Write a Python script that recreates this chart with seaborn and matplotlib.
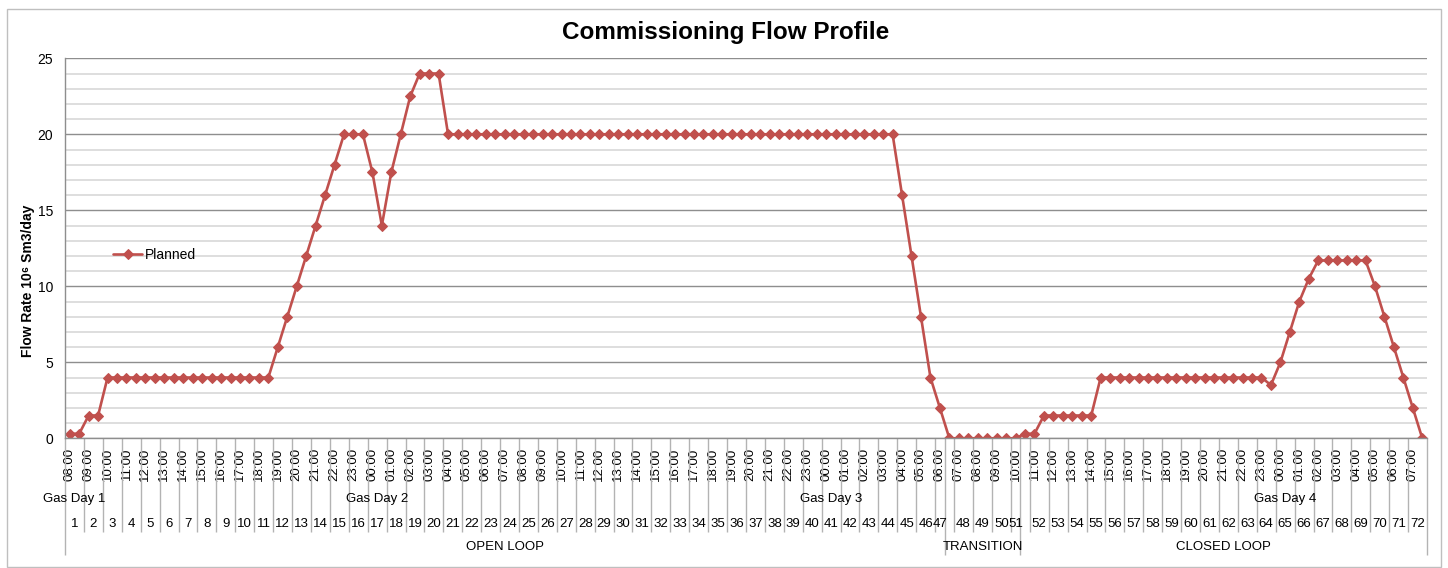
import seaborn as sns
import matplotlib.pyplot as plt
import pandas as pd
from matplotlib.ticker import MultipleLocator
from matplotlib.patches import Rectangle

# Planned flow, one value per half hour (144 slots, 08:00 gas day 1 -> 07:30 gas day 4)
flow = [
    0.3, 0.3, 1.5, 1.5, 4, 4, 4, 4, 4, 4, 4, 4,
    4, 4, 4, 4, 4, 4, 4, 4, 4, 4, 6, 8,
    10, 12, 14, 16, 18, 20, 20, 20, 17.5, 14, 17.5, 20,
    22.5, 24, 24, 24, 20, 20, 20, 20, 20, 20, 20, 20,
    20, 20, 20, 20, 20, 20, 20, 20, 20, 20, 20, 20,
    20, 20, 20, 20, 20, 20, 20, 20, 20, 20, 20, 20,
    20, 20, 20, 20, 20, 20, 20, 20, 20, 20, 20, 20,
    20, 20, 20, 20, 16, 12, 8, 4, 2, 0, 0, 0,
    0, 0, 0, 0, 0, 0.3, 0.3, 1.5, 1.5, 1.5, 1.5, 1.5,
    1.5, 4, 4, 4, 4, 4, 4, 4, 4, 4, 4, 4,
    4, 4, 4, 4, 4, 4, 4, 3.5, 5, 7, 9, 10.5,
    11.7, 11.7, 11.7, 11.7, 11.7, 11.7, 10, 8, 6, 4, 2, 0,
]

times = [
    "08:00", "09:00", "10:00", "11:00", "12:00", "13:00", "14:00", "15:00",
    "16:00", "17:00", "18:00", "19:00", "20:00", "21:00", "22:00", "23:00",
    "00:00", "01:00", "02:00", "03:00", "04:00", "05:00", "06:00", "07:00",
    "08:00", "09:00", "10:00", "11:00", "12:00", "13:00", "14:00", "15:00",
    "16:00", "17:00", "18:00", "19:00", "20:00", "21:00", "22:00", "23:00",
    "00:00", "01:00", "02:00", "03:00", "04:00", "05:00", "06:00", "07:00",
    "08:00", "09:00", "10:00", "11:00", "12:00", "13:00", "14:00", "15:00",
    "16:00", "17:00", "18:00", "19:00", "20:00", "21:00", "22:00", "23:00",
    "00:00", "01:00", "02:00", "03:00", "04:00", "05:00", "06:00", "07:00",
]
hour_no = list(range(1, 73))

gas_days = ["Gas Day 1", "Gas Day 2", "Gas Day 3", "Gas Day 4"]
gas_day_hour = [1, 17, 41, 65]

phases = ["OPEN LOOP", "TRANSITION", "CLOSED LOOP"]
phase_start = [0, 93, 101]
phase_end = [92, 100, 143]

df = pd.DataFrame({"slot": range(len(flow)), "flow": flow})

sns.set_theme(style="white")
plt.rcParams["font.family"] = ["Liberation Sans", "DejaVu Sans"]
plt.rcParams["text.color"] = "black"

W, H = 1448, 568
fig = plt.figure(figsize=(W / 100, H / 100), dpi=100)
x0, x1, ytop, ybot = 65, 1427, 58.3, 438.3
ax = fig.add_axes([x0 / W, (H - ybot) / H, (x1 - x0) / W, (ybot - ytop) / H])

red = "#C0504D"
sns.lineplot(data=df, x="slot", y="flow", ax=ax, color=red, lw=1.9,
             marker="D", markersize=5.1, markeredgecolor=red, label="Planned")

ax.set_xlim(-0.5, len(flow) - 0.5)
ax.set_ylim(0, 25)
ax.yaxis.set_major_locator(MultipleLocator(5))
ax.yaxis.set_minor_locator(MultipleLocator(1))
ax.grid(False)
ax.grid(axis="y", which="minor", color="#d4d4d4", lw=1.1)
ax.grid(axis="y", which="major", color="#8e8e8e", lw=1.0)
ax.set_axisbelow(True)
for s in ["top", "right"]:
    ax.spines[s].set_visible(False)
for s in ["left", "bottom"]:
    ax.spines[s].set_color("#8e8e8e")
    ax.spines[s].set_linewidth(1.0)

ax.set_xlabel("")
ax.set_ylabel("")
ax.set_xticks(range(0, len(flow), 2))
ax.set_xticklabels(times, rotation=90, fontsize=9.5, color="black")
ax.tick_params(axis="x", length=0, pad=7)
ax.tick_params(axis="y", which="both", length=0, pad=8.5, labelsize=10, labelcolor="black")

leg = ax.legend(loc="center left", bbox_to_anchor=((113 - x0) / (x1 - x0), (ybot - 255) / (ybot - ytop)),
                frameon=False, fontsize=10, handlelength=2.1, handletextpad=0.2,
                borderaxespad=0, borderpad=0)
for t in leg.get_texts():
    t.set_color("black")

# multi-level category labels under the axis
tr = ax.get_xaxis_transform()


def ay(py):
    return (ybot - py) / (ybot - ytop)


hour_lines = [2 * k - 0.5 for k in range(1, 72)]
ax.vlines(hour_lines, ay(ybot), ay(532), transform=tr, clip_on=False, colors="#b3b3b3", lw=1)
phase_lines = [phase_start[0] - 0.5] + [e + 0.5 for e in phase_end]
ax.vlines(phase_lines, ay(ybot), ay(555), transform=tr, clip_on=False, colors="#b3b3b3", lw=1)


def phase_of(slot):
    for i in range(len(phases)):
        if phase_start[i] <= slot <= phase_end[i]:
            return i


for h in hour_no:
    first = 2 * h - 2
    slots = [s for s in (first, first + 1) if phase_of(s) == phase_of(first)]
    ax.text(sum(slots) / len(slots), ay(524), str(h), transform=tr, ha="center", va="center",
            fontsize=9.5, clip_on=False)

for name, h in zip(gas_days, gas_day_hour):
    ax.text(2 * (h - 1) + 0.5, ay(499), name, transform=tr, ha="center", va="center",
            fontsize=9.5, clip_on=False)

for name, a, b in zip(phases, phase_start, phase_end):
    ax.text((a + b) / 2, ay(547), name, transform=tr, ha="center", va="center",
            fontsize=9.5, clip_on=False)

fig.text(725.5 / W, 1 - 33 / H, "Commissioning Flow Profile", ha="center", va="center",
         fontsize=17.5, fontweight="bold")
fig.text(28 / W, 1 - 281 / H, "Flow Rate 10\u2076 Sm3/day", rotation=90, ha="center", va="center",
         fontsize=10, fontweight="bold")

fig.add_artist(Rectangle((7 / W, 1 / H), (1441 - 7) / W, (567 - 9) / H, transform=fig.transFigure,
                         fill=False, ec="#bfbfbf", lw=1))

fig.savefig("out.png", dpi=100)
